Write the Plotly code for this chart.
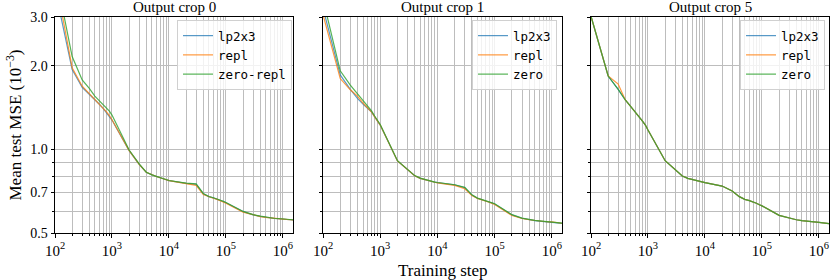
import plotly.graph_objects as go
from plotly.subplots import make_subplots

steps = [100, 200, 300, 400, 500, 600, 700, 800, 900, 1000,
         2000, 3000, 4000, 5000, 6000, 7000, 8000, 9000, 10000,
         20000, 30000, 40000, 50000, 60000, 70000, 80000, 90000, 100000,
         200000, 300000, 400000, 500000, 600000, 700000, 800000, 900000, 1000000, 1500000]

panel_titles = ["Output crop 0", "Output crop 1", "Output crop 5"]

# crop 0
c0_lp2x3 = [3.79, 1.94, 1.675, 1.584, 1.507, 1.455, 1.406, 1.36, 1.32, 1.276,
            0.990, 0.884, 0.827, 0.809, 0.799, 0.791, 0.784, 0.778, 0.772,
            0.755, 0.749, 0.692, 0.676, 0.669, 0.663, 0.655, 0.649, 0.643,
            0.597, 0.581, 0.574, 0.569, 0.566, 0.564, 0.563, 0.562, 0.561, 0.557]
c0_repl = [4.2, 1.97, 1.69, 1.59, 1.515, 1.46, 1.41, 1.365, 1.325, 1.28,
           0.990, 0.884, 0.827, 0.809, 0.799, 0.791, 0.784, 0.778, 0.772,
           0.753, 0.742, 0.688, 0.674, 0.667, 0.661, 0.653, 0.646, 0.640,
           0.594, 0.580, 0.573, 0.569, 0.566, 0.564, 0.563, 0.562, 0.561, 0.557]
c0_zero_repl = [4.4, 2.16, 1.78, 1.66, 1.557, 1.50, 1.445, 1.41, 1.375, 1.33,
                0.995, 0.887, 0.828, 0.810, 0.800, 0.792, 0.785, 0.779, 0.773,
                0.756, 0.752, 0.694, 0.677, 0.670, 0.664, 0.656, 0.650, 0.644,
                0.598, 0.582, 0.575, 0.570, 0.567, 0.565, 0.564, 0.563, 0.562, 0.558]

# crop 1
c1_lp2x3 = [3.23, 1.855, 1.646, 1.528, 1.457, 1.41, 1.367, 1.31, 1.259, 1.224,
            0.909, 0.848, 0.804, 0.787, 0.778, 0.770, 0.765, 0.762, 0.759,
            0.745, 0.728, 0.685, 0.667, 0.660, 0.654, 0.647, 0.641, 0.636,
            0.581, 0.565, 0.558, 0.554, 0.552, 0.550, 0.549, 0.548, 0.548, 0.542]
c1_repl = [3.06, 1.80, 1.64, 1.557, 1.47, 1.415, 1.367, 1.31, 1.259, 1.224,
           0.909, 0.848, 0.804, 0.787, 0.778, 0.770, 0.765, 0.762, 0.758,
           0.742, 0.722, 0.682, 0.666, 0.659, 0.653, 0.645, 0.639, 0.633,
           0.578, 0.564, 0.558, 0.554, 0.552, 0.550, 0.549, 0.548, 0.548, 0.542]
c1_zero = [3.48, 1.92, 1.706, 1.584, 1.498, 1.44, 1.38, 1.32, 1.265, 1.23,
           0.911, 0.849, 0.805, 0.788, 0.779, 0.771, 0.766, 0.763, 0.760,
           0.746, 0.730, 0.686, 0.668, 0.661, 0.655, 0.648, 0.642, 0.637,
           0.582, 0.566, 0.559, 0.555, 0.553, 0.551, 0.550, 0.549, 0.548, 0.543]

# crop 5
c5_lp2x3 = [3.02, 1.839, 1.646, 1.507, 1.426, 1.365, 1.312, 1.265, 1.224, 1.175,
            0.911, 0.843, 0.802, 0.787, 0.779, 0.772, 0.766, 0.762, 0.759,
            0.738, 0.708, 0.676, 0.661, 0.654, 0.648, 0.640, 0.632, 0.626,
            0.579, 0.565, 0.558, 0.554, 0.551, 0.549, 0.548, 0.547, 0.546, 0.540]
c5_repl = [3.02, 1.839, 1.72, 1.507, 1.426, 1.365, 1.312, 1.265, 1.224, 1.175,
           0.911, 0.843, 0.802, 0.787, 0.779, 0.772, 0.766, 0.762, 0.759,
           0.738, 0.708, 0.676, 0.661, 0.654, 0.648, 0.640, 0.632, 0.626,
           0.579, 0.565, 0.558, 0.554, 0.551, 0.549, 0.548, 0.547, 0.546, 0.540]
c5_zero = [3.02, 1.839, 1.646, 1.507, 1.426, 1.365, 1.312, 1.265, 1.224, 1.175,
           0.911, 0.843, 0.802, 0.787, 0.779, 0.772, 0.766, 0.762, 0.759,
           0.738, 0.708, 0.676, 0.661, 0.654, 0.648, 0.640, 0.632, 0.626,
           0.579, 0.565, 0.558, 0.554, 0.551, 0.549, 0.548, 0.547, 0.546, 0.540]

panels = [
    [("lp2x3", c0_lp2x3), ("repl", c0_repl), ("zero-repl", c0_zero_repl)],
    [("lp2x3", c1_lp2x3), ("repl", c1_repl), ("zero", c1_zero)],
    [("lp2x3", c5_lp2x3), ("repl", c5_repl), ("zero", c5_zero)],
]

colors = ["rgba(31,119,180,0.75)", "rgba(255,127,14,0.8)", "rgba(44,160,44,0.8)"]

x_tickvals = [1e2, 1e3, 1e4, 1e5, 1e6]
x_ticktext = ["10<sup>2</sup>", "10<sup>3</sup>", "10<sup>4</sup>", "10<sup>5</sup>", "10<sup>6</sup>"]
x_minor = [m * 10 ** e for e in range(2, 7) for m in range(2, 10)]
y_tickvals = [0.5, 0.7, 1.0, 2.0, 3.0]
y_ticktext = ["0.5", "0.7", "1.0", "2.0", "3.0"]
y_minor = [0.6, 0.8, 0.9]

SERIF = "Liberation Serif"
MONO = "DejaVu Sans Mono"
GRID = "#bdbdbd"

fig = make_subplots(rows=1, cols=3)

W, H = 830, 280
ml, mr, mt, mb = 55, 1, 17, 47
pw = W - ml - mr
ph = H - mt - mb
domains = [(0, 238 / pw), (268 / pw, 507 / pw), (536 / pw, 1.0)]
legend_names = ["legend", "legend2", "legend3"]
legend_left_px = [177, 472, 740]

for i, series in enumerate(panels):
    for j, (name, vals) in enumerate(series):
        fig.add_trace(go.Scatter(x=steps, y=vals, mode="lines", name=name,
                                 line=dict(color=colors[j], width=1.2),
                                 legend=legend_names[i]), row=1, col=i + 1)
    xa = "xaxis" if i == 0 else f"xaxis{i + 1}"
    ya = "yaxis" if i == 0 else f"yaxis{i + 1}"
    fig.layout[xa].update(
        type="log", range=[2, 6.1761], domain=domains[i],
        tickmode="array", tickvals=x_tickvals, ticktext=x_ticktext,
        ticks="outside", ticklen=3.5, tickwidth=0.8, tickcolor="black",
        showgrid=True, gridcolor=GRID, gridwidth=0.8,
        minor=dict(tickmode="array", tickvals=x_minor, ticks="outside", ticklen=2,
                   tickwidth=0.6, tickcolor="black", showgrid=True, gridcolor=GRID, gridwidth=0.8),
        showline=True, linecolor="black", linewidth=1, mirror=True,
        tickfont=dict(family=SERIF, size=15, color="black"), automargin=False, zeroline=False,
    )
    fig.layout[ya].update(
        type="log", range=[-0.30103, 0.4771213],
        tickmode="array", tickvals=y_tickvals, ticktext=y_ticktext,
        showticklabels=(i == 0),
        ticks="outside", ticklen=3.5, tickwidth=0.8, tickcolor="black",
        showgrid=True, gridcolor=GRID, gridwidth=0.8,
        minor=dict(tickmode="array", tickvals=y_minor, ticks="outside", ticklen=2,
                   tickwidth=0.6, tickcolor="black", showgrid=True, gridcolor=GRID, gridwidth=0.8),
        showline=True, linecolor="black", linewidth=1, mirror=True,
        tickfont=dict(family=SERIF, size=14, color="black"), automargin=False, zeroline=False,
    )
    fig.layout[legend_names[i]] = dict(
        x=(legend_left_px[i] - ml) / pw, xanchor="left", y=1 - 3 / ph, yanchor="top",
        bgcolor="rgba(255,255,255,0.8)", bordercolor="#d0d0d0", borderwidth=1,
        font=dict(family=MONO, size=12.5, color="black"),
        tracegroupgap=0, itemwidth=30,
    )
    fig.add_annotation(text=panel_titles[i], xref="paper", yref="paper",
                       x=(domains[i][0] + domains[i][1]) / 2, y=1, xanchor="center",
                       yanchor="bottom", showarrow=False, yshift=0,
                       font=dict(family=SERIF, size=15, color="black"))

fig.layout.yaxis.title = dict(text="Mean test MSE (10<sup>\u22123</sup>)",
                              font=dict(family=SERIF, size=17, color="black"), standoff=4)

fig.add_annotation(text="Training step", xref="paper", yref="paper",
                   x=(domains[1][0] + domains[1][1]) / 2, y=-(270 - (H - mb)) / ph,
                   xanchor="center", yanchor="middle", showarrow=False,
                   font=dict(family=SERIF, size=17, color="black"))

fig.update_layout(width=W, height=H, margin=dict(l=ml, r=mr, t=mt, b=mb),
                  plot_bgcolor="white", paper_bgcolor="white", showlegend=True)

fig.write_html("out.html", config={"displayModeBar": False},
               post_script="document.body.style.margin='0';document.body.style.overflow='hidden';")
